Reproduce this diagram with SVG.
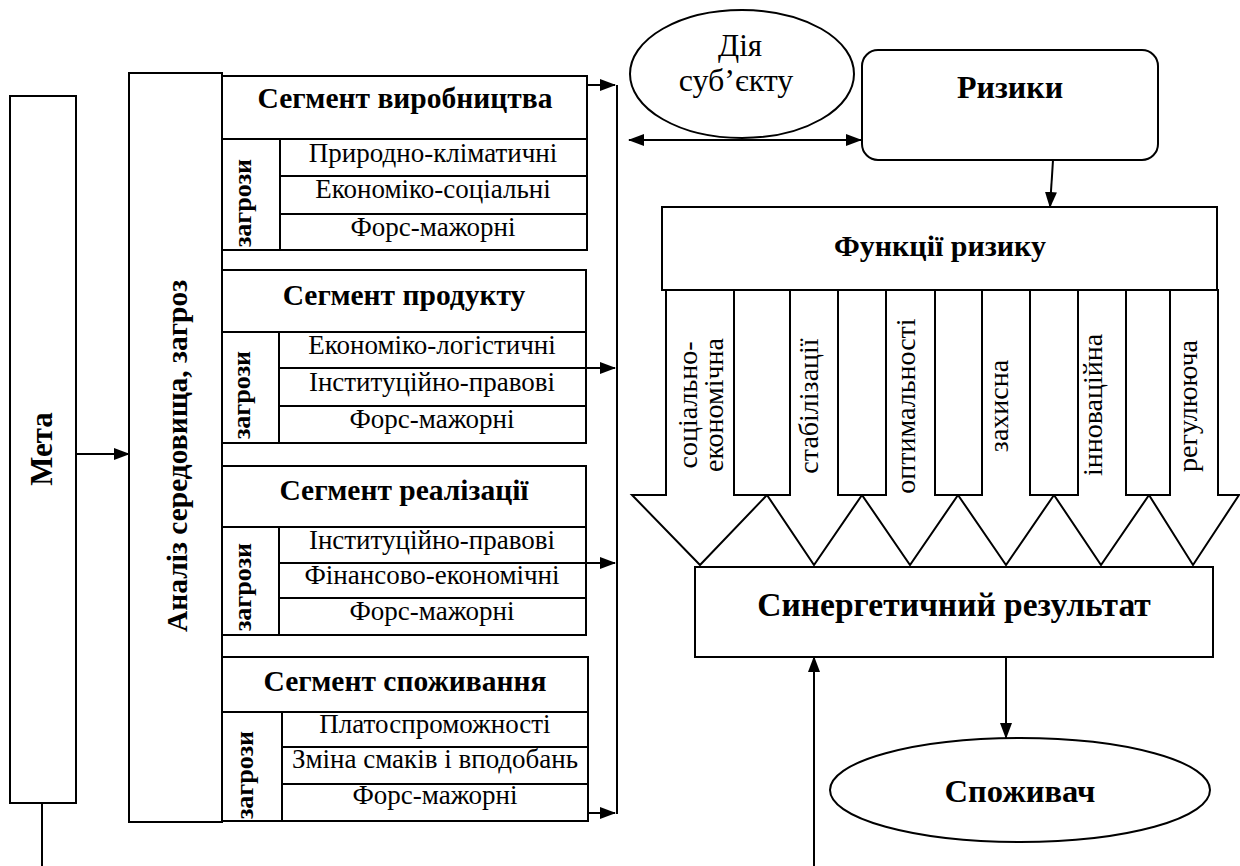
<svg xmlns="http://www.w3.org/2000/svg" width="1240" height="866" viewBox="0 0 1240 866">
<defs>
<marker id="ah" markerWidth="16" markerHeight="12" refX="15" refY="6" orient="auto" markerUnits="userSpaceOnUse"><path d="M0,0 L16,6 L0,12 Z" fill="#000"/></marker>
<marker id="ahs" markerWidth="16" markerHeight="12" refX="1" refY="6" orient="auto" markerUnits="userSpaceOnUse"><path d="M16,0 L0,6 L16,12 Z" fill="#000"/></marker>
</defs>
<style>
.n{fill:#fff;stroke:#000;stroke-width:2}
.bg{fill:#fff;stroke:none}
line{stroke:#000;stroke-width:2;fill:none}
text{font-family:"Liberation Serif","DejaVu Serif","Times New Roman",serif;fill:#000}
.h{font-size:29.5px;font-weight:bold;text-anchor:middle}
.t{font-size:27px;text-anchor:middle}
.z{font-size:26px;font-weight:bold;text-anchor:middle}
.v{font-size:28px;text-anchor:middle}
</style>
<rect class="bg" width="1240" height="866"/>

<g id="meta">
<rect class="n" x="10" y="96" width="66" height="707"/>
<text class="h" transform="translate(52,449) rotate(-90)" style="font-size:31px">Мета</text>
</g>

<g id="analiz">
<rect class="n" x="129" y="73" width="93" height="749"/>
<text class="h" transform="translate(187,456) rotate(-90)">Аналіз середовища, загроз</text>
</g>

<g id="seg1">
<rect class="n" x="222" y="76" width="365" height="63"/>
<text class="h" x="405" y="108">Сегмент виробництва</text>
<rect class="n" x="222" y="139" width="58" height="111"/>
<text class="z" transform="translate(251,203) rotate(-90)">загрози</text>
<rect class="n" x="280" y="139" width="307" height="37"/>
<rect class="n" x="280" y="176" width="307" height="38"/>
<rect class="n" x="280" y="214" width="307" height="36"/>
<text class="t" x="433" y="162">Природно-кліматичні</text>
<text class="t" x="433" y="198">Економіко-соціальні</text>
<text class="t" x="433" y="236">Форс-мажорні</text>
</g>

<g id="seg2">
<rect class="n" x="222" y="270" width="364" height="62"/>
<text class="h" x="404" y="305">Сегмент продукту</text>
<rect class="n" x="222" y="332" width="57" height="111"/>
<text class="z" transform="translate(250,395) rotate(-90)">загрози</text>
<rect class="n" x="279" y="332" width="307" height="36"/>
<rect class="n" x="279" y="368" width="307" height="38"/>
<rect class="n" x="279" y="406" width="307" height="37"/>
<text class="t" x="432" y="354">Економіко-логістичні</text>
<text class="t" x="432" y="391">Інституційно-правові</text>
<text class="t" x="432" y="428">Форс-мажорні</text>
</g>

<g id="seg3">
<rect class="n" x="222" y="466" width="364" height="61"/>
<text class="h" x="404" y="500">Сегмент реалізації</text>
<rect class="n" x="222" y="527" width="57" height="108"/>
<text class="z" transform="translate(251,587) rotate(-90)">загрози</text>
<rect class="n" x="279" y="527" width="307" height="36"/>
<rect class="n" x="279" y="563" width="307" height="35"/>
<rect class="n" x="279" y="598" width="307" height="37"/>
<text class="t" x="432" y="549">Інституційно-правові</text>
<text class="t" x="432" y="584">Фінансово-економічні</text>
<text class="t" x="432" y="620">Форс-мажорні</text>
</g>

<g id="seg4">
<rect class="n" x="222" y="657" width="366" height="55"/>
<text class="h" x="405" y="691">Сегмент споживання</text>
<rect class="n" x="222" y="712" width="60" height="109"/>
<text class="z" transform="translate(253,775) rotate(-90)">загрози</text>
<rect class="n" x="282" y="712" width="306" height="35"/>
<rect class="n" x="282" y="747" width="306" height="37"/>
<rect class="n" x="282" y="784" width="306" height="37"/>
<text class="t" x="435" y="733">Платоспроможності</text>
<text class="t" x="435" y="768">Зміна смаків і вподобань</text>
<text class="t" x="435" y="804">Форс-мажорні</text>
</g>

<g id="dia">
<ellipse class="n" cx="742" cy="74" rx="112" ry="64"/>
<text class="v" x="740" y="56" style="font-size:31px">Дія</text>
<text class="v" x="736" y="91" style="font-size:32px">суб’єкту</text>
</g>

<g id="ryzyky">
<rect class="n" x="862" y="50" width="296" height="110" rx="16"/>
<text class="h" x="1010" y="98" style="font-size:32px">Ризики</text>
</g>

<g id="funktsii">
<rect class="n" x="662" y="207" width="555" height="83"/>
<text class="h" x="940" y="256" style="font-size:30px">Функції ризику</text>
</g>

<g id="arrows-funk">
<polygon class="n" points="666,290 666,495 632,495 700,565 767,495 734,495 734,290"/>
<polygon class="n" points="790,290 790,495 767,495 814,565 862,495 838,495 838,290"/>
<polygon class="n" points="886,290 886,495 862,495 910,565 958,495 935,495 935,290"/>
<polygon class="n" points="982,290 982,495 958,495 1006,565 1054,495 1030,495 1030,290"/>
<polygon class="n" points="1078,290 1078,495 1054,495 1101,565 1149,495 1126,495 1126,290"/>
<polygon class="n" points="1170,290 1170,495 1149,495 1193,565 1239,495 1218,495 1218,290"/>
<text class="v" transform="translate(697,405) rotate(-90)">соціально-</text>
<text class="v" transform="translate(723,405) rotate(-90)">економічна</text>
<text class="v" transform="translate(818,406) rotate(-90)">стабілізації</text>
<text class="v" transform="translate(915,406) rotate(-90)">оптимальності</text>
<text class="v" transform="translate(1008,406) rotate(-90)">захисна</text>
<text class="v" transform="translate(1102,405) rotate(-90)">інноваційна</text>
<text class="v" transform="translate(1197,406) rotate(-90)">регулююча</text>
</g>

<g id="synergy">
<rect class="n" x="695" y="567" width="518" height="90"/>
<text class="h" x="954" y="616" style="font-size:33.5px">Синергетичний результат</text>
</g>

<g id="spozhyvach">
<ellipse class="n" cx="1020" cy="790" rx="190" ry="52"/>
<text class="h" x="1020" y="802" style="font-size:32.5px">Споживач</text>
</g>

<g id="connectors">
<line x1="76" y1="454" x2="129" y2="454" marker-end="url(#ah)"/>
<line x1="42" y1="803" x2="42" y2="866"/>
<line x1="617" y1="85" x2="617" y2="814"/>
<line x1="587" y1="85" x2="615" y2="85" marker-end="url(#ah)"/>
<line x1="586" y1="368" x2="615" y2="368" marker-end="url(#ah)"/>
<line x1="586" y1="563" x2="615" y2="563" marker-end="url(#ah)"/>
<line x1="588" y1="813" x2="615" y2="813" marker-end="url(#ah)"/>
<line x1="629" y1="140" x2="861" y2="140" marker-start="url(#ahs)" marker-end="url(#ah)"/>
<line x1="1053" y1="160" x2="1050" y2="207" marker-end="url(#ah)"/>
<line x1="1006" y1="657" x2="1006" y2="738" marker-end="url(#ah)"/>
<line x1="814" y1="866" x2="814" y2="657" marker-end="url(#ah)"/>
</g>
</svg>
